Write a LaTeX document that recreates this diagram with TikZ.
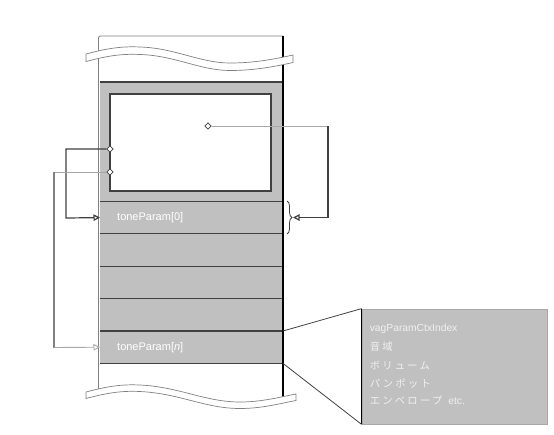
\documentclass[tikz,border=0pt]{standalone}
\usepackage{fontspec}
\setmainfont{Liberation Sans}
\newfontfamily\jpfont[LetterSpace=22]{Noto Sans CJK JP}
\usetikzlibrary{arrows.meta,shapes.geometric,decorations.pathreplacing,calc}
\definecolor{cellgray}{HTML}{C0C0C0}
\definecolor{darkline}{HTML}{404040}
\definecolor{lightline}{HTML}{A8A8A8}
\definecolor{midline}{HTML}{808080}
\begin{document}
\begin{tikzpicture}[x=1pt,y=-1pt,
  rowbox/.style={fill=cellgray,minimum width=183pt,minimum height=32.4pt,inner sep=0pt,outer sep=0pt},
  rowline/.style={draw=darkline,line width=1.1pt},
  lbl/.style={text=white,font=\fontsize{11}{13}\selectfont,anchor=west,inner sep=0pt},
  boxtxt/.style={text=white!94!black,font=\fontsize{10.3}{12}\selectfont,anchor=west,inner sep=0pt},
  dia/.style={diamond,draw=darkline,fill=white,line width=0.7pt,minimum size=6.5pt,inner sep=0pt},
  wave/.style={draw=midline,fill=white,line width=0.7pt},
  opentip/.style={-{Triangle[open,length=6.5pt,width=6.5pt,fill=white]}},
  dk/.style={draw=darkline,line width=1.2pt},
  lt/.style={draw=lightline,line width=0.9pt}]
\useasboundingbox (0,0) rectangle (554,434);
% column
\fill[cellgray] (100,82) rectangle (283,362);
\draw[darkline,line width=1.1pt] (100,82) -- (283,82);
\node[draw=darkline,line width=1.2pt,fill=white,minimum width=161pt,minimum height=97pt,inner sep=0pt] (inner) at (190.5,142.5) {};
\node[rowbox] (r0) at (191.5,217.6) {};
\node[rowbox] (r1) at (191.5,250) {};
\node[rowbox] (r2) at (191.5,282.4) {};
\node[rowbox] (r3) at (191.5,314.8) {};
\node[rowbox] (r4) at (191.5,347.2) {};
\foreach \r in {r0,r1,r2,r3,r4}{
  \draw[rowline] (\r.north west) -- (\r.north east);
}
\draw[rowline] (r4.south west) -- (r4.south east);
\node[lbl] (t0) at ($(r0.west)+(17,0.5)$) {toneParam[0]};
\node[lbl] (tn) at ($(r4.west)+(17,0)$) {toneParam[\textit{n}]};
% column edges
\draw[midline,line width=0.8pt] (98.5,392) -- (98.5,38) to[out=90,in=180] (100.5,36) -- (283,36);
\draw[black,line width=1.6pt] (283,36) -- (283,398);
% waves
\draw[wave] (86,54) .. controls (105,49) and (120,46) .. (140,47) .. controls (175,48) and (200,63) .. (230,63) .. controls (255,63) and (275,59) .. (293,55)
  -- (293,62.5) .. controls (275,66.5) and (255,70.5) .. (230,70.5) .. controls (200,70.5) and (175,55.5) .. (140,54.5) .. controls (120,53.5) and (105,56.5) .. (86,61.5) -- cycle;
\draw[wave] (86,392) .. controls (105,387) and (120,384) .. (140,385) .. controls (180,387) and (205,402) .. (240,402) .. controls (262,402) and (280,397) .. (296,394)
  -- (296,400.5) .. controls (280,403.5) and (262,408.5) .. (240,408.5) .. controls (205,408.5) and (180,393.5) .. (140,391.5) .. controls (120,390.5) and (105,393.5) .. (86,398.5) -- cycle;
% diamonds
\node[dia] (d1) at (110,149) {};
\node[dia] (d2) at (110,172) {};
\node[dia] (d3) at (208,126) {};
% brace
\coordinate (bt) at (287,201);
\coordinate (bb) at (287,234);
\draw[darkline,line width=0.8pt,decorate,decoration={brace,amplitude=5pt}] (bt) -- (bb);
\coordinate (btip) at (293,217.5);
% connectors
\coordinate (c1a) at (66,149);
\coordinate (c1b) at (66,218);
\draw[dk,opentip] (d1.west) -- (c1a) -- (c1b) -- (r0.west);
\coordinate (c2a) at (54,172);
\coordinate (c2b) at (54,347.5);
\draw[lt] (d2.west) -- (c2a);
\draw[midline,line width=1.3pt] (c2a) -- (c2b);
\draw[lt,opentip] (c2b) -- (r4.west);
\coordinate (c3a) at (328,126);
\coordinate (c3b) at (328,217.5);
\draw[lt] (d3.east) -- (c3a);
\draw[dk,opentip] (c3a) -- (c3b) -- (btip);
% info box
\node[draw=lightline,line width=0.8pt,fill=cellgray,minimum width=185pt,minimum height=115pt,inner sep=0pt] (box) at (454.5,366.5) {};
\draw[black,line width=1.5pt] (box.north west) -- (box.south west);
\draw[darkline,line width=0.8pt] (r4.north east) -- (box.north west);
\draw[darkline,line width=0.8pt] (r4.south east) -- (box.south west);
\node[boxtxt] (b1) at ($(box.north west)+(8,20)$) {vagParamCtxIndex};
\node[boxtxt] (b2) at ($(box.north west)+(8,38)$) {\jpfont 音域};
\node[boxtxt] (b3) at ($(box.north west)+(8,57)$) {\jpfont ボリューム};
\node[boxtxt] (b4) at ($(box.north west)+(8,74.5)$) {\jpfont パンポット};
\node[boxtxt] (b5) at ($(box.north west)+(8,91.5)$) {{\jpfont エンベロープ}\hspace{6pt}etc.};
\end{tikzpicture}
\end{document}
